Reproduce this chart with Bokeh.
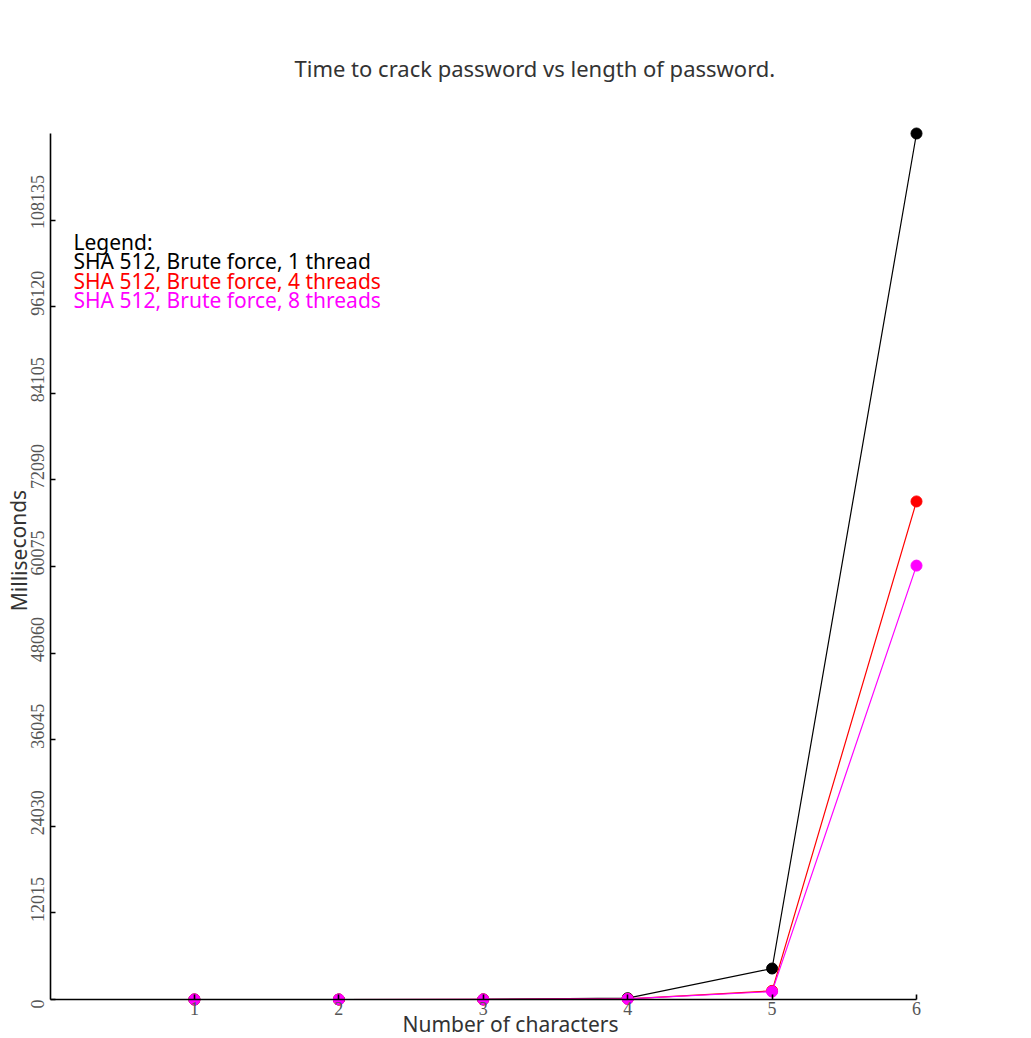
from bokeh.plotting import figure
from bokeh.models import Range1d, FixedTicker, Label
from bokeh.embed import file_html
from bokeh.resources import INLINE

# ---- data ----
lengths = [1, 2, 3, 4, 5, 6]
ms_1_thread = [1, 3, 15, 180, 4300, 120150]
ms_4_threads = [1, 2, 8, 90, 1200, 69100]
ms_8_threads = [1, 2, 7, 80, 1100, 60200]
y_ticks = [0, 12015, 24030, 36045, 48060, 60075, 72090, 84105, 96120, 108135]
y_tick_labels = ["0", "12015", "24030", "36045", "48060", "60075", "72090", "84105", "96120", "108135"]
x_ticks = [1, 2, 3, 4, 5, 6]
x_tick_labels = ["1", "2", "3", "4", "5", "6"]
x_min, x_max = 0, 6
y_min, y_max = 0, 120150

title_text = "Time to crack password vs length of password."
x_label = "Number of characters"
y_label = "Milliseconds"
legend_lines = [
    ("Legend:", "#000000"),
    ("SHA 512, Brute force, 1 thread", "#000000"),
    ("SHA 512, Brute force, 4 threads", "#ff0000"),
    ("SHA 512, Brute force, 8 threads", "#ff00ff"),
]

SANS = "Noto Sans"
SERIF = "Liberation Serif"
NBSP = "\u00a0"

# ---- layout (pixels) ----
W, H = 1031, 1038
AX_LEFT, AX_RIGHT, AX_TOP, AX_BOTTOM = 49.5, 916, 133, 999

xs = (AX_RIGHT - AX_LEFT) / (x_max - x_min)   # px per x unit
ys = (AX_BOTTOM - AX_TOP) / (y_max - y_min)   # px per y unit
x_range = Range1d(x_min - AX_LEFT / xs, x_max + (W - AX_RIGHT) / xs)
y_range = Range1d(y_min - (H - AX_BOTTOM) / ys, y_max + AX_TOP / ys)

p = figure(width=W, height=H, output_backend="svg", toolbar_location=None,
           x_range=x_range, y_range=y_range, title_location=None,
           min_border=0, min_border_left=0, min_border_right=0,
           min_border_top=0, min_border_bottom=0)
p.grid.visible = False
p.outline_line_color = None
p.background_fill_color = "white"
p.border_fill_color = "white"

for ax in (p.xaxis[0], p.yaxis[0]):
    ax.fixed_location = 0
    ax.axis_line_color = "#000000"
    ax.axis_line_width = 1.6
    ax.major_tick_line_color = "#000000"
    ax.major_tick_line_width = 1.6
    ax.major_tick_in = 5
    ax.major_tick_out = 0
    ax.minor_tick_line_color = None
    ax.major_label_text_font = SERIF
    ax.major_label_text_font_size = "18px"
    ax.major_label_text_color = "#555555"

p.xaxis.bounds = (x_min, x_max)
p.yaxis.bounds = (y_min, y_max)
p.xaxis.ticker = FixedTicker(ticks=x_ticks)
p.yaxis.ticker = FixedTicker(ticks=y_ticks)
p.xaxis.major_label_overrides = dict(zip(x_ticks, x_tick_labels))

# The reference's vertical tick labels start a little below their tick and run
# upward; pad with non-breaking spaces so the centred label lands there.
def pad_label(s):
    digits_px = 9 * len(s)
    pad = round((digits_px - 20) / 4.5)
    if pad >= 0:
        return NBSP * pad + s
    return s + NBSP * (-pad)

p.yaxis.major_label_overrides = {t: pad_label(s) for t, s in zip(y_ticks, y_tick_labels)}
p.xaxis.major_label_standoff = 2
p.yaxis.major_label_standoff = 2
p.yaxis.major_label_orientation = "vertical"

series = [(ms_1_thread, "#000000"), (ms_4_threads, "#ff0000"), (ms_8_threads, "#ff00ff")]
for vals, col in series:
    p.line(lengths, vals, line_color=col, line_width=1.2)
    p.scatter(lengths, vals, marker="circle", size=11, fill_color=col, line_color=col)

def add_label(text, sx, sy_top, color="#333333", size="21px", angle=0, align="left",
              baseline="alphabetic"):
    # sy_top: pixel measured from top of canvas; Label screen y is from bottom
    p.add_layout(Label(x=sx, y=H - sy_top, x_units="screen", y_units="screen", text=text,
                       text_color=color, text_font=SANS, text_font_size=size,
                       angle=angle, text_align=align, text_baseline=baseline))

add_label(title_text, 294, 67, size="22px")
add_label(x_label, 402, 1023)
add_label(y_label, 18, 550, angle=1.5708, align="center")
for i, (txt, col) in enumerate(legend_lines):
    add_label(txt, 73, 241 + i * 19.5, color=col)

open("out.html", "w").write(file_html(p, INLINE))
